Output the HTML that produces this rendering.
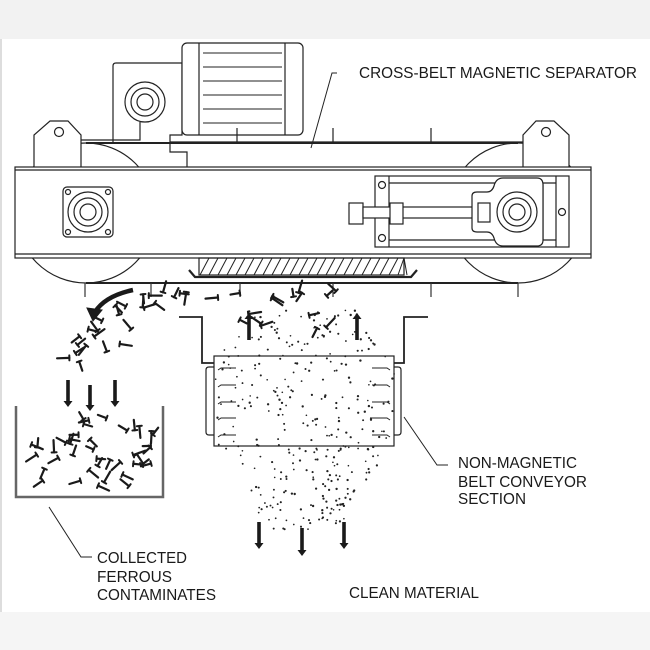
<!DOCTYPE html>
<html><head><meta charset="utf-8"><style>
html,body{margin:0;padding:0;background:#fff}
svg{display:block}
text{font-family:"Liberation Sans",sans-serif;fill:#1a1a1a}
</style></head><body>
<svg id="s" width="650" height="650" viewBox="0 0 650 650" xmlns="http://www.w3.org/2000/svg">
<rect x="0" y="0" width="650" height="650" fill="#fff"/>
<rect x="0" y="0" width="650" height="39" fill="#f2f2f2"/>
<rect x="0" y="39" width="2" height="611" fill="#ddd"/>
<rect x="0" y="612" width="650" height="38" fill="#f5f5f5"/>
<g fill="none" stroke="#222" stroke-width="1.2">
<circle cx="86" cy="213" r="70" fill="#fff"/>
<circle cx="518" cy="213" r="70" fill="#fff"/>
<line x1="86" y1="143" x2="518" y2="143" stroke-width="2"/>
<line x1="86" y1="283" x2="518" y2="283" stroke-width="2"/>
<path d="M34,167 V135 L50,121 H68 L81,135 V167" fill="#fff"/>
<circle cx="59" cy="132" r="4.5"/>
<path d="M523,167 V135 L536,121 H554 L569,135 V167" fill="#fff"/>
<circle cx="546" cy="132" r="4.5"/>
<path d="M113,142 V66 Q113,63 116,63 H182 V135 H170 V142" fill="#fff"/>
<circle cx="145" cy="102" r="20"/><circle cx="145" cy="102" r="14"/><circle cx="145" cy="102" r="8"/>
<path d="M81,140 H140 V122"/>
<path d="M170,142 V152 H187 V167"/>
<rect x="182" y="43" width="121" height="92" rx="5" fill="#fff"/>
<line x1="199" y1="43" x2="199" y2="135"/><line x1="285" y1="43" x2="285" y2="135"/>
<g stroke-width="1"><line x1="203" y1="53" x2="282" y2="53"/><line x1="203" y1="67" x2="282" y2="67"/><line x1="203" y1="81" x2="282" y2="81"/><line x1="203" y1="95" x2="282" y2="95"/><line x1="203" y1="109" x2="282" y2="109"/><line x1="203" y1="123" x2="282" y2="123"/></g>
<line x1="237" y1="128" x2="237" y2="142"/><line x1="333" y1="128" x2="333" y2="142"/><line x1="431" y1="128" x2="431" y2="142"/>
<line x1="170" y1="142" x2="523" y2="142"/>
<rect x="15" y="167" width="576" height="91" fill="#fff"/>
<line x1="15" y1="170" x2="591" y2="170"/>
<line x1="15" y1="254" x2="591" y2="254"/>
<rect x="63" y="187" width="50" height="50" rx="4"/>
<circle cx="88" cy="212" r="20"/><circle cx="88" cy="212" r="14"/><circle cx="88" cy="212" r="8"/>
<circle cx="68" cy="192" r="2.5"/><circle cx="108" cy="192" r="2.5"/><circle cx="68" cy="232" r="2.5"/><circle cx="108" cy="232" r="2.5"/>
<rect x="375" y="176" width="194" height="71"/>
<line x1="389" y1="176" x2="389" y2="247"/>
<line x1="389" y1="183" x2="556" y2="183"/><line x1="389" y1="240" x2="556" y2="240"/>
<line x1="543" y1="183" x2="543" y2="240"/><line x1="556" y1="176" x2="556" y2="247"/>
<circle cx="382" cy="185" r="3.5"/><circle cx="382" cy="238" r="3.5"/><circle cx="562" cy="212" r="3.5"/>
<rect x="349" y="203" width="14" height="21" fill="#fff"/>
<rect x="363" y="207" width="110" height="11" fill="#fff"/>
<rect x="390" y="203" width="13" height="21" fill="#fff"/>
<path d="M472,212 V196 Q472,192 477,192 H487 Q492,192 494,186 Q496,178 503,178 H537 Q543,178 543,185 V240 Q543,246 537,246 H503 Q496,246 494,238 Q492,232 487,232 H477 Q472,232 472,228 Z" fill="#fff"/>
<rect x="478" y="203" width="12" height="19"/>
<circle cx="517" cy="212" r="20"/><circle cx="517" cy="212" r="14"/><circle cx="517" cy="212" r="8"/>
<rect x="199" y="258" width="205" height="17"/>
<path d="M189,270 L195,277 H411 L417,270" stroke-width="2.2"/>
<g stroke="#333"><line x1="85" y1="283" x2="85" y2="297"/><line x1="151" y1="283" x2="151" y2="297"/><line x1="240" y1="283" x2="240" y2="297"/><line x1="333" y1="283" x2="333" y2="297"/><line x1="431" y1="283" x2="431" y2="297"/><line x1="518" y1="283" x2="518" y2="297"/></g>
<path d="M179,317 H202 V363 H214" stroke-width="1.8"/>
<path d="M428,317 H404 V363 H394" stroke-width="1.8"/>
<rect x="214" y="356" width="180" height="90"/>
<path d="M214,367 H209 Q206,367 206,370 V432 Q206,435 209,435 H214"/>
<path d="M394,367 H398 Q401,367 401,370 V432 Q401,435 398,435 H394"/>
<path d="M16,406 V497 H163 V406" stroke="#666" stroke-width="2.5"/>
<path d="M337,73 H332 L311,148" stroke-width="1"/>
<path d="M404,417 L437,465 H448" stroke-width="1"/>
<path d="M49,507 L81,557 H92" stroke-width="1"/>
</g>
<g id="hatch" stroke="#222" stroke-width="1"></g>
<g id="comb" stroke="#222" stroke-width="1" fill="none"></g>
<g id="dots" fill="#222"></g>
<g id="nails" stroke="#1a1a1a" stroke-linecap="round"></g>
<g fill="#1a1a1a" stroke="#1a1a1a">
<path d="M133,290 Q105,296 95,312" fill="none" stroke-width="4.5"/>
<path d="M87,308 L93,321 L102,310 Z"/>
</g>
<g id="arrows" fill="#1a1a1a"></g>
<text x="359" y="78" font-size="16" textLength="278" lengthAdjust="spacingAndGlyphs">CROSS-BELT MAGNETIC SEPARATOR</text>
<text x="458" y="468" font-size="16" textLength="119" lengthAdjust="spacingAndGlyphs">NON-MAGNETIC</text>
<text x="458" y="487" font-size="16" textLength="129" lengthAdjust="spacingAndGlyphs">BELT CONVEYOR</text>
<text x="458" y="504" font-size="16" textLength="68" lengthAdjust="spacingAndGlyphs">SECTION</text>
<text x="97" y="563" font-size="16" textLength="90" lengthAdjust="spacingAndGlyphs">COLLECTED</text>
<text x="97" y="582" font-size="16" textLength="75" lengthAdjust="spacingAndGlyphs">FERROUS</text>
<text x="97" y="600" font-size="16" textLength="119" lengthAdjust="spacingAndGlyphs">CONTAMINATES</text>
<text x="349" y="598" font-size="16" textLength="130" lengthAdjust="spacingAndGlyphs">CLEAN MATERIAL</text>
</svg>
<script>
var NS="http://www.w3.org/2000/svg";
function el(p,t,a){var e=document.createElementNS(NS,t);for(var k in a)e.setAttribute(k,a[k]);document.getElementById(p).appendChild(e);return e;}
var seed=7;function r(){seed=(seed*16807)%2147483647;return (seed-1)/2147483646;}
for(var x=200;x<410;x+=9){var x2=x+9;if(x2>404)x2=404;el("hatch","line",{x1:x,y1:275,x2:x2,y2:258});}
[368,385,402,418,435].forEach(function(y){el("comb","path",{d:"M218,"+(y+2)+" L221,"+y+" H236"});el("comb","path",{d:"M390,"+(y+2)+" L387,"+y+" H372"});});
var n=0;while(n<330){var y=310+r()*220;var hw;if(y<360)hw=60+(y-310)*0.6;else if(y<440)hw=90;else hw=90-(y-440)*0.6;var x=305-hw+r()*2*hw;if(y<330&&r()<0.5)continue;el("dots","circle",{cx:x.toFixed(1),cy:y.toFixed(1),r:(0.8+r()*0.4).toFixed(2)});n++;}
function nail(x,y){var a=r()*Math.PI*2,l=8+r()*5;var x2=x+Math.cos(a)*l,y2=y+Math.sin(a)*l;el("nails","line",{x1:x,y1:y,x2:x2.toFixed(1),y2:y2.toFixed(1),"stroke-width":2.2});el("nails","line",{x1:(x-Math.sin(a)*2.5).toFixed(1),y1:(y+Math.cos(a)*2.5).toFixed(1),x2:(x+Math.sin(a)*2.5).toFixed(1),y2:(y-Math.cos(a)*2.5).toFixed(1),"stroke-width":2});}
for(var i=0;i<40;i++)nail(24+r()*130,417+r()*70);
for(var i=0;i<22;i++){var t=r();nail(140-t*60+(r()-0.5)*50,292+t*75);}
for(var i=0;i<12;i++)nail(155+r()*185,290+r()*10);
for(var i=0;i<7;i++)nail(228+r()*100,312+r()*18);
function arr(x,y1,y2,w){var up=y2<y1;var h=up?6:-6;el("arrows","path",{d:"M"+(x-1.8)+","+y1+" V"+(y2+h)+" H"+(x-w)+" L"+x+","+y2+" L"+(x+w)+","+(y2+h)+" H"+(x+1.8)+" V"+y1+" Z"});}
arr(259,522,549,4.5);arr(302,528,556,4.5);arr(344,522,549,4.5);
arr(249,340,313,4.5);arr(357,340,313,4.5);
arr(68,380,407,4.5);arr(90,385,411,4.5);arr(115,380,407,4.5);
</script>
</body></html>
